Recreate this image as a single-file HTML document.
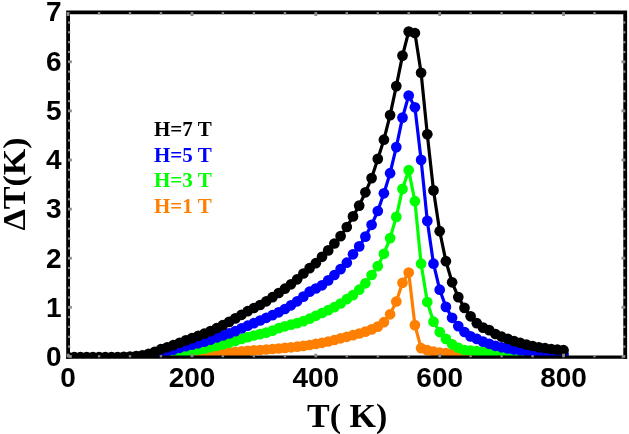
<!DOCTYPE html>
<html><head><meta charset="utf-8"><style>
html,body{margin:0;padding:0;background:#fff;}
svg{display:block;filter:blur(0.35px);}
.tk{font-family:"Liberation Sans",Arial,sans-serif;font-weight:bold;font-size:28px;fill:#000;}
.ax{font-family:"Liberation Serif","Times New Roman",serif;font-weight:bold;font-size:34px;fill:#000;}
.lg{font-family:"Liberation Serif","Times New Roman",serif;font-weight:bold;font-size:21px;}
</style></head><body>
<svg width="629" height="434" viewBox="0 0 629 434">
<rect width="629" height="434" fill="#fff"/>
<defs><clipPath id="c"><rect x="68.1" y="12.3" width="557.1" height="344.8"/></clipPath></defs>
<g clip-path="url(#c)">
<polyline fill="none" stroke="#ff7f00" stroke-width="3.2" stroke-linejoin="round" points="136.2,356.5 142.4,356.4 148.6,356.3 154.8,356.2 161.0,356.1 167.2,355.9 173.4,355.7 179.6,355.4 185.8,355.0 192.0,354.7 198.2,354.3 204.3,353.9 210.5,353.5 216.7,353.1 222.9,352.7 229.1,352.3 235.3,351.8 241.5,351.4 247.7,350.9 253.9,350.4 260.1,350.0 266.3,349.5 272.5,349.0 278.7,348.5 284.9,347.9 291.0,347.3 297.2,346.7 303.4,345.9 309.6,345.0 315.8,343.9 322.0,342.8 328.2,341.5 334.4,340.0 340.6,338.3 346.8,336.8 353.0,335.2 359.2,333.5 365.4,331.6 371.6,329.4 377.8,326.6 383.9,322.2 390.1,314.3 396.3,301.5 402.5,282.8 408.7,272.5 414.9,325.1 421.1,348.2 427.3,350.2 433.5,351.7 439.7,352.7 445.9,353.2 452.1,353.7 458.3,354.1 464.5,354.4 470.6,354.6 476.8,354.9 483.0,355.1 489.2,355.3 495.4,355.5 501.6,355.6 507.8,355.8 514.0,355.9 520.2,356.0 526.4,356.1 532.6,356.2 538.8,356.3 545.0,356.4 551.2,356.5 557.3,356.6 563.5,356.6"/>
<g fill="#ff7f00"><circle cx="136.2" cy="356.5" r="5.35"/><circle cx="142.4" cy="356.4" r="5.35"/><circle cx="148.6" cy="356.3" r="5.35"/><circle cx="154.8" cy="356.2" r="5.35"/><circle cx="161.0" cy="356.1" r="5.35"/><circle cx="167.2" cy="355.9" r="5.35"/><circle cx="173.4" cy="355.7" r="5.35"/><circle cx="179.6" cy="355.4" r="5.35"/><circle cx="185.8" cy="355.0" r="5.35"/><circle cx="192.0" cy="354.7" r="5.35"/><circle cx="198.2" cy="354.3" r="5.35"/><circle cx="204.3" cy="353.9" r="5.35"/><circle cx="210.5" cy="353.5" r="5.35"/><circle cx="216.7" cy="353.1" r="5.35"/><circle cx="222.9" cy="352.7" r="5.35"/><circle cx="229.1" cy="352.3" r="5.35"/><circle cx="235.3" cy="351.8" r="5.35"/><circle cx="241.5" cy="351.4" r="5.35"/><circle cx="247.7" cy="350.9" r="5.35"/><circle cx="253.9" cy="350.4" r="5.35"/><circle cx="260.1" cy="350.0" r="5.35"/><circle cx="266.3" cy="349.5" r="5.35"/><circle cx="272.5" cy="349.0" r="5.35"/><circle cx="278.7" cy="348.5" r="5.35"/><circle cx="284.9" cy="347.9" r="5.35"/><circle cx="291.0" cy="347.3" r="5.35"/><circle cx="297.2" cy="346.7" r="5.35"/><circle cx="303.4" cy="345.9" r="5.35"/><circle cx="309.6" cy="345.0" r="5.35"/><circle cx="315.8" cy="343.9" r="5.35"/><circle cx="322.0" cy="342.8" r="5.35"/><circle cx="328.2" cy="341.5" r="5.35"/><circle cx="334.4" cy="340.0" r="5.35"/><circle cx="340.6" cy="338.3" r="5.35"/><circle cx="346.8" cy="336.8" r="5.35"/><circle cx="353.0" cy="335.2" r="5.35"/><circle cx="359.2" cy="333.5" r="5.35"/><circle cx="365.4" cy="331.6" r="5.35"/><circle cx="371.6" cy="329.4" r="5.35"/><circle cx="377.8" cy="326.6" r="5.35"/><circle cx="383.9" cy="322.2" r="5.35"/><circle cx="390.1" cy="314.3" r="5.35"/><circle cx="396.3" cy="301.5" r="5.35"/><circle cx="402.5" cy="282.8" r="5.35"/><circle cx="408.7" cy="272.5" r="5.35"/><circle cx="414.9" cy="325.1" r="5.35"/><circle cx="421.1" cy="348.2" r="5.35"/><circle cx="427.3" cy="350.2" r="5.35"/><circle cx="433.5" cy="351.7" r="5.35"/><circle cx="439.7" cy="352.7" r="5.35"/><circle cx="445.9" cy="353.2" r="5.35"/><circle cx="452.1" cy="353.7" r="5.35"/><circle cx="458.3" cy="354.1" r="5.35"/><circle cx="464.5" cy="354.4" r="5.35"/><circle cx="470.6" cy="354.6" r="5.35"/><circle cx="476.8" cy="354.9" r="5.35"/><circle cx="483.0" cy="355.1" r="5.35"/><circle cx="489.2" cy="355.3" r="5.35"/><circle cx="495.4" cy="355.5" r="5.35"/><circle cx="501.6" cy="355.6" r="5.35"/><circle cx="507.8" cy="355.8" r="5.35"/><circle cx="514.0" cy="355.9" r="5.35"/><circle cx="520.2" cy="356.0" r="5.35"/><circle cx="526.4" cy="356.1" r="5.35"/><circle cx="532.6" cy="356.2" r="5.35"/><circle cx="538.8" cy="356.3" r="5.35"/><circle cx="545.0" cy="356.4" r="5.35"/><circle cx="551.2" cy="356.5" r="5.35"/><circle cx="557.3" cy="356.6" r="5.35"/><circle cx="563.5" cy="356.6" r="5.35"/></g>
<polyline fill="none" stroke="#00ff00" stroke-width="3.2" stroke-linejoin="round" points="136.2,356.7 142.4,356.4 148.6,355.9 154.8,355.4 161.0,354.9 167.2,354.3 173.4,353.6 179.6,352.8 185.8,351.8 192.0,350.8 198.2,349.7 204.3,348.6 210.5,347.3 216.7,345.9 222.9,344.4 229.1,342.7 235.3,340.9 241.5,339.0 247.7,337.1 253.9,335.5 260.1,334.1 266.3,332.6 272.5,330.7 278.7,328.2 284.9,326.3 291.0,324.7 297.2,323.1 303.4,321.2 309.6,318.7 315.8,315.8 322.0,313.0 328.2,310.2 334.4,307.2 340.6,303.5 346.8,299.2 353.0,295.1 359.2,289.7 365.4,283.3 371.6,275.0 377.8,266.1 383.9,253.8 390.1,238.1 396.3,216.9 402.5,188.9 408.7,170.2 414.9,201.2 421.1,263.7 427.3,302.0 433.5,321.7 439.7,332.0 445.9,338.9 452.1,344.3 458.3,347.8 464.5,350.2 470.6,350.5 476.8,351.2 483.0,351.7 489.2,352.2 495.4,352.7 501.6,353.2 507.8,353.6 514.0,353.9 520.2,354.2 526.4,354.5 532.6,354.7 538.8,355.0 545.0,355.2 551.2,355.4 557.3,355.5 563.5,355.6"/>
<g fill="#00ff00"><circle cx="136.2" cy="356.7" r="5.35"/><circle cx="142.4" cy="356.4" r="5.35"/><circle cx="148.6" cy="355.9" r="5.35"/><circle cx="154.8" cy="355.4" r="5.35"/><circle cx="161.0" cy="354.9" r="5.35"/><circle cx="167.2" cy="354.3" r="5.35"/><circle cx="173.4" cy="353.6" r="5.35"/><circle cx="179.6" cy="352.8" r="5.35"/><circle cx="185.8" cy="351.8" r="5.35"/><circle cx="192.0" cy="350.8" r="5.35"/><circle cx="198.2" cy="349.7" r="5.35"/><circle cx="204.3" cy="348.6" r="5.35"/><circle cx="210.5" cy="347.3" r="5.35"/><circle cx="216.7" cy="345.9" r="5.35"/><circle cx="222.9" cy="344.4" r="5.35"/><circle cx="229.1" cy="342.7" r="5.35"/><circle cx="235.3" cy="340.9" r="5.35"/><circle cx="241.5" cy="339.0" r="5.35"/><circle cx="247.7" cy="337.1" r="5.35"/><circle cx="253.9" cy="335.5" r="5.35"/><circle cx="260.1" cy="334.1" r="5.35"/><circle cx="266.3" cy="332.6" r="5.35"/><circle cx="272.5" cy="330.7" r="5.35"/><circle cx="278.7" cy="328.2" r="5.35"/><circle cx="284.9" cy="326.3" r="5.35"/><circle cx="291.0" cy="324.7" r="5.35"/><circle cx="297.2" cy="323.1" r="5.35"/><circle cx="303.4" cy="321.2" r="5.35"/><circle cx="309.6" cy="318.7" r="5.35"/><circle cx="315.8" cy="315.8" r="5.35"/><circle cx="322.0" cy="313.0" r="5.35"/><circle cx="328.2" cy="310.2" r="5.35"/><circle cx="334.4" cy="307.2" r="5.35"/><circle cx="340.6" cy="303.5" r="5.35"/><circle cx="346.8" cy="299.2" r="5.35"/><circle cx="353.0" cy="295.1" r="5.35"/><circle cx="359.2" cy="289.7" r="5.35"/><circle cx="365.4" cy="283.3" r="5.35"/><circle cx="371.6" cy="275.0" r="5.35"/><circle cx="377.8" cy="266.1" r="5.35"/><circle cx="383.9" cy="253.8" r="5.35"/><circle cx="390.1" cy="238.1" r="5.35"/><circle cx="396.3" cy="216.9" r="5.35"/><circle cx="402.5" cy="188.9" r="5.35"/><circle cx="408.7" cy="170.2" r="5.35"/><circle cx="414.9" cy="201.2" r="5.35"/><circle cx="421.1" cy="263.7" r="5.35"/><circle cx="427.3" cy="302.0" r="5.35"/><circle cx="433.5" cy="321.7" r="5.35"/><circle cx="439.7" cy="332.0" r="5.35"/><circle cx="445.9" cy="338.9" r="5.35"/><circle cx="452.1" cy="344.3" r="5.35"/><circle cx="458.3" cy="347.8" r="5.35"/><circle cx="464.5" cy="350.2" r="5.35"/><circle cx="470.6" cy="350.5" r="5.35"/><circle cx="476.8" cy="351.2" r="5.35"/><circle cx="483.0" cy="351.7" r="5.35"/><circle cx="489.2" cy="352.2" r="5.35"/><circle cx="495.4" cy="352.7" r="5.35"/><circle cx="501.6" cy="353.2" r="5.35"/><circle cx="507.8" cy="353.6" r="5.35"/><circle cx="514.0" cy="353.9" r="5.35"/><circle cx="520.2" cy="354.2" r="5.35"/><circle cx="526.4" cy="354.5" r="5.35"/><circle cx="532.6" cy="354.7" r="5.35"/><circle cx="538.8" cy="355.0" r="5.35"/><circle cx="545.0" cy="355.2" r="5.35"/><circle cx="551.2" cy="355.4" r="5.35"/><circle cx="557.3" cy="355.5" r="5.35"/><circle cx="563.5" cy="355.6" r="5.35"/></g>
<polyline fill="none" stroke="#0000ff" stroke-width="3.2" stroke-linejoin="round" points="142.4,355.9 148.6,355.1 154.8,354.1 161.0,352.7 167.2,351.2 173.4,349.6 179.6,347.8 185.8,346.1 192.0,344.6 198.2,343.3 204.3,341.6 210.5,339.6 216.7,337.4 222.9,335.4 229.1,333.4 235.3,331.1 241.5,328.4 247.7,325.7 253.9,323.1 260.1,320.5 266.3,317.8 272.5,315.2 278.7,312.3 284.9,309.0 291.0,305.3 297.2,301.3 303.4,296.6 309.6,291.7 315.8,288.5 322.0,285.3 328.2,280.4 334.4,275.0 340.6,269.1 346.8,262.7 353.0,254.3 359.2,246.4 365.4,236.6 371.6,224.8 377.8,211.0 383.9,193.3 390.1,173.2 396.3,147.1 402.5,117.6 408.7,95.5 414.9,107.3 421.1,159.9 427.3,220.9 433.5,263.7 439.7,289.7 445.9,306.9 452.1,317.8 458.3,326.1 464.5,332.0 470.6,336.4 476.8,338.9 483.0,341.6 489.2,343.8 495.4,345.8 501.6,347.3 507.8,348.5 514.0,349.5 520.2,350.3 526.4,351.0 532.6,351.7 538.8,352.3 545.0,352.8 551.2,353.3 557.3,353.8 563.5,354.1"/>
<g fill="#0000ff"><circle cx="142.4" cy="355.9" r="5.35"/><circle cx="148.6" cy="355.1" r="5.35"/><circle cx="154.8" cy="354.1" r="5.35"/><circle cx="161.0" cy="352.7" r="5.35"/><circle cx="167.2" cy="351.2" r="5.35"/><circle cx="173.4" cy="349.6" r="5.35"/><circle cx="179.6" cy="347.8" r="5.35"/><circle cx="185.8" cy="346.1" r="5.35"/><circle cx="192.0" cy="344.6" r="5.35"/><circle cx="198.2" cy="343.3" r="5.35"/><circle cx="204.3" cy="341.6" r="5.35"/><circle cx="210.5" cy="339.6" r="5.35"/><circle cx="216.7" cy="337.4" r="5.35"/><circle cx="222.9" cy="335.4" r="5.35"/><circle cx="229.1" cy="333.4" r="5.35"/><circle cx="235.3" cy="331.1" r="5.35"/><circle cx="241.5" cy="328.4" r="5.35"/><circle cx="247.7" cy="325.7" r="5.35"/><circle cx="253.9" cy="323.1" r="5.35"/><circle cx="260.1" cy="320.5" r="5.35"/><circle cx="266.3" cy="317.8" r="5.35"/><circle cx="272.5" cy="315.2" r="5.35"/><circle cx="278.7" cy="312.3" r="5.35"/><circle cx="284.9" cy="309.0" r="5.35"/><circle cx="291.0" cy="305.3" r="5.35"/><circle cx="297.2" cy="301.3" r="5.35"/><circle cx="303.4" cy="296.6" r="5.35"/><circle cx="309.6" cy="291.7" r="5.35"/><circle cx="315.8" cy="288.5" r="5.35"/><circle cx="322.0" cy="285.3" r="5.35"/><circle cx="328.2" cy="280.4" r="5.35"/><circle cx="334.4" cy="275.0" r="5.35"/><circle cx="340.6" cy="269.1" r="5.35"/><circle cx="346.8" cy="262.7" r="5.35"/><circle cx="353.0" cy="254.3" r="5.35"/><circle cx="359.2" cy="246.4" r="5.35"/><circle cx="365.4" cy="236.6" r="5.35"/><circle cx="371.6" cy="224.8" r="5.35"/><circle cx="377.8" cy="211.0" r="5.35"/><circle cx="383.9" cy="193.3" r="5.35"/><circle cx="390.1" cy="173.2" r="5.35"/><circle cx="396.3" cy="147.1" r="5.35"/><circle cx="402.5" cy="117.6" r="5.35"/><circle cx="408.7" cy="95.5" r="5.35"/><circle cx="414.9" cy="107.3" r="5.35"/><circle cx="421.1" cy="159.9" r="5.35"/><circle cx="427.3" cy="220.9" r="5.35"/><circle cx="433.5" cy="263.7" r="5.35"/><circle cx="439.7" cy="289.7" r="5.35"/><circle cx="445.9" cy="306.9" r="5.35"/><circle cx="452.1" cy="317.8" r="5.35"/><circle cx="458.3" cy="326.1" r="5.35"/><circle cx="464.5" cy="332.0" r="5.35"/><circle cx="470.6" cy="336.4" r="5.35"/><circle cx="476.8" cy="338.9" r="5.35"/><circle cx="483.0" cy="341.6" r="5.35"/><circle cx="489.2" cy="343.8" r="5.35"/><circle cx="495.4" cy="345.8" r="5.35"/><circle cx="501.6" cy="347.3" r="5.35"/><circle cx="507.8" cy="348.5" r="5.35"/><circle cx="514.0" cy="349.5" r="5.35"/><circle cx="520.2" cy="350.3" r="5.35"/><circle cx="526.4" cy="351.0" r="5.35"/><circle cx="532.6" cy="351.7" r="5.35"/><circle cx="538.8" cy="352.3" r="5.35"/><circle cx="545.0" cy="352.8" r="5.35"/><circle cx="551.2" cy="353.3" r="5.35"/><circle cx="557.3" cy="353.8" r="5.35"/><circle cx="563.5" cy="354.1" r="5.35"/></g>
<polyline fill="none" stroke="#000000" stroke-width="3.2" stroke-linejoin="round" points="68.1,357.1 74.3,357.1 80.5,357.1 86.7,357.1 92.9,357.1 99.1,357.1 105.3,357.1 111.5,357.1 117.6,357.1 123.8,356.9 130.0,356.6 136.2,356.1 142.4,355.4 148.6,353.9 154.8,351.9 161.0,349.2 167.2,347.3 173.4,345.1 179.6,342.8 185.8,340.4 192.0,338.1 198.2,335.9 204.3,333.7 210.5,331.1 216.7,328.2 222.9,325.1 229.1,321.9 235.3,318.4 241.5,314.8 247.7,311.2 253.9,308.0 260.1,305.0 266.3,301.3 272.5,297.2 278.7,293.0 284.9,288.7 291.0,284.3 297.2,279.3 303.4,273.5 309.6,268.1 315.8,263.2 322.0,256.8 328.2,250.4 334.4,243.5 340.6,236.1 346.8,227.0 353.0,216.4 359.2,205.6 365.4,192.3 371.6,178.1 377.8,158.9 383.9,139.7 390.1,115.1 396.3,86.1 402.5,55.6 408.7,31.5 414.9,33.0 421.1,72.8 427.3,134.3 433.5,190.4 439.7,231.2 445.9,261.2 452.1,282.3 458.3,297.1 464.5,307.9 470.6,316.3 476.8,323.2 483.0,327.6 489.2,330.1 495.4,334.0 501.6,336.7 507.8,338.9 514.0,341.1 520.2,342.8 526.4,344.6 532.6,346.0 538.8,347.3 545.0,348.2 551.2,349.0 557.3,349.6 563.5,350.2"/>
<g fill="#000000"><circle cx="68.1" cy="357.1" r="5.35"/><circle cx="74.3" cy="357.1" r="5.35"/><circle cx="80.5" cy="357.1" r="5.35"/><circle cx="86.7" cy="357.1" r="5.35"/><circle cx="92.9" cy="357.1" r="5.35"/><circle cx="99.1" cy="357.1" r="5.35"/><circle cx="105.3" cy="357.1" r="5.35"/><circle cx="111.5" cy="357.1" r="5.35"/><circle cx="117.6" cy="357.1" r="5.35"/><circle cx="123.8" cy="356.9" r="5.35"/><circle cx="130.0" cy="356.6" r="5.35"/><circle cx="136.2" cy="356.1" r="5.35"/><circle cx="142.4" cy="355.4" r="5.35"/><circle cx="148.6" cy="353.9" r="5.35"/><circle cx="154.8" cy="351.9" r="5.35"/><circle cx="161.0" cy="349.2" r="5.35"/><circle cx="167.2" cy="347.3" r="5.35"/><circle cx="173.4" cy="345.1" r="5.35"/><circle cx="179.6" cy="342.8" r="5.35"/><circle cx="185.8" cy="340.4" r="5.35"/><circle cx="192.0" cy="338.1" r="5.35"/><circle cx="198.2" cy="335.9" r="5.35"/><circle cx="204.3" cy="333.7" r="5.35"/><circle cx="210.5" cy="331.1" r="5.35"/><circle cx="216.7" cy="328.2" r="5.35"/><circle cx="222.9" cy="325.1" r="5.35"/><circle cx="229.1" cy="321.9" r="5.35"/><circle cx="235.3" cy="318.4" r="5.35"/><circle cx="241.5" cy="314.8" r="5.35"/><circle cx="247.7" cy="311.2" r="5.35"/><circle cx="253.9" cy="308.0" r="5.35"/><circle cx="260.1" cy="305.0" r="5.35"/><circle cx="266.3" cy="301.3" r="5.35"/><circle cx="272.5" cy="297.2" r="5.35"/><circle cx="278.7" cy="293.0" r="5.35"/><circle cx="284.9" cy="288.7" r="5.35"/><circle cx="291.0" cy="284.3" r="5.35"/><circle cx="297.2" cy="279.3" r="5.35"/><circle cx="303.4" cy="273.5" r="5.35"/><circle cx="309.6" cy="268.1" r="5.35"/><circle cx="315.8" cy="263.2" r="5.35"/><circle cx="322.0" cy="256.8" r="5.35"/><circle cx="328.2" cy="250.4" r="5.35"/><circle cx="334.4" cy="243.5" r="5.35"/><circle cx="340.6" cy="236.1" r="5.35"/><circle cx="346.8" cy="227.0" r="5.35"/><circle cx="353.0" cy="216.4" r="5.35"/><circle cx="359.2" cy="205.6" r="5.35"/><circle cx="365.4" cy="192.3" r="5.35"/><circle cx="371.6" cy="178.1" r="5.35"/><circle cx="377.8" cy="158.9" r="5.35"/><circle cx="383.9" cy="139.7" r="5.35"/><circle cx="390.1" cy="115.1" r="5.35"/><circle cx="396.3" cy="86.1" r="5.35"/><circle cx="402.5" cy="55.6" r="5.35"/><circle cx="408.7" cy="31.5" r="5.35"/><circle cx="414.9" cy="33.0" r="5.35"/><circle cx="421.1" cy="72.8" r="5.35"/><circle cx="427.3" cy="134.3" r="5.35"/><circle cx="433.5" cy="190.4" r="5.35"/><circle cx="439.7" cy="231.2" r="5.35"/><circle cx="445.9" cy="261.2" r="5.35"/><circle cx="452.1" cy="282.3" r="5.35"/><circle cx="458.3" cy="297.1" r="5.35"/><circle cx="464.5" cy="307.9" r="5.35"/><circle cx="470.6" cy="316.3" r="5.35"/><circle cx="476.8" cy="323.2" r="5.35"/><circle cx="483.0" cy="327.6" r="5.35"/><circle cx="489.2" cy="330.1" r="5.35"/><circle cx="495.4" cy="334.0" r="5.35"/><circle cx="501.6" cy="336.7" r="5.35"/><circle cx="507.8" cy="338.9" r="5.35"/><circle cx="514.0" cy="341.1" r="5.35"/><circle cx="520.2" cy="342.8" r="5.35"/><circle cx="526.4" cy="344.6" r="5.35"/><circle cx="532.6" cy="346.0" r="5.35"/><circle cx="538.8" cy="347.3" r="5.35"/><circle cx="545.0" cy="348.2" r="5.35"/><circle cx="551.2" cy="349.0" r="5.35"/><circle cx="557.3" cy="349.6" r="5.35"/><circle cx="563.5" cy="350.2" r="5.35"/></g>
</g>
<path d="M68.1,10.4 V358.75 M625.2,358.75 V10.4 M627.1,12.3 H66.19999999999999" stroke="#000" stroke-width="3.8" fill="none"/>
<path d="M66.19999999999999,357.1 H627.1" stroke="#000" stroke-width="3.3" fill="none"/>
<rect x="66.7" y="353.7" width="2.8" height="3.6" fill="#8c8c8c"/><rect x="66.7" y="12.1" width="2.8" height="3.9" fill="#8c8c8c"/><rect x="97.9" y="355.2" width="2.4" height="2.1" fill="#8c8c8c"/><rect x="97.9" y="12.1" width="2.4" height="2.4" fill="#8c8c8c"/><rect x="128.8" y="355.2" width="2.4" height="2.1" fill="#8c8c8c"/><rect x="128.8" y="12.1" width="2.4" height="2.4" fill="#8c8c8c"/><rect x="159.8" y="355.2" width="2.4" height="2.1" fill="#8c8c8c"/><rect x="159.8" y="12.1" width="2.4" height="2.4" fill="#8c8c8c"/><rect x="190.6" y="353.7" width="2.8" height="3.6" fill="#8c8c8c"/><rect x="190.6" y="12.1" width="2.8" height="3.9" fill="#8c8c8c"/><rect x="221.7" y="355.2" width="2.4" height="2.1" fill="#8c8c8c"/><rect x="221.7" y="12.1" width="2.4" height="2.4" fill="#8c8c8c"/><rect x="252.7" y="355.2" width="2.4" height="2.1" fill="#8c8c8c"/><rect x="252.7" y="12.1" width="2.4" height="2.4" fill="#8c8c8c"/><rect x="283.7" y="355.2" width="2.4" height="2.1" fill="#8c8c8c"/><rect x="283.7" y="12.1" width="2.4" height="2.4" fill="#8c8c8c"/><rect x="314.4" y="353.7" width="2.8" height="3.6" fill="#8c8c8c"/><rect x="314.4" y="12.1" width="2.8" height="3.9" fill="#8c8c8c"/><rect x="345.6" y="355.2" width="2.4" height="2.1" fill="#8c8c8c"/><rect x="345.6" y="12.1" width="2.4" height="2.4" fill="#8c8c8c"/><rect x="376.6" y="355.2" width="2.4" height="2.1" fill="#8c8c8c"/><rect x="376.6" y="12.1" width="2.4" height="2.4" fill="#8c8c8c"/><rect x="407.5" y="355.2" width="2.4" height="2.1" fill="#8c8c8c"/><rect x="407.5" y="12.1" width="2.4" height="2.4" fill="#8c8c8c"/><rect x="438.3" y="353.7" width="2.8" height="3.6" fill="#8c8c8c"/><rect x="438.3" y="12.1" width="2.8" height="3.9" fill="#8c8c8c"/><rect x="469.4" y="355.2" width="2.4" height="2.1" fill="#8c8c8c"/><rect x="469.4" y="12.1" width="2.4" height="2.4" fill="#8c8c8c"/><rect x="500.4" y="355.2" width="2.4" height="2.1" fill="#8c8c8c"/><rect x="500.4" y="12.1" width="2.4" height="2.4" fill="#8c8c8c"/><rect x="531.4" y="355.2" width="2.4" height="2.1" fill="#8c8c8c"/><rect x="531.4" y="12.1" width="2.4" height="2.4" fill="#8c8c8c"/><rect x="562.1" y="353.7" width="2.8" height="3.6" fill="#8c8c8c"/><rect x="562.1" y="12.1" width="2.8" height="3.9" fill="#8c8c8c"/><rect x="593.3" y="355.2" width="2.4" height="2.1" fill="#8c8c8c"/><rect x="593.3" y="12.1" width="2.4" height="2.4" fill="#8c8c8c"/><rect x="68.0" y="355.0" width="3.8" height="2.8" fill="#8c8c8c"/><rect x="621.5" y="355.0" width="3.8" height="2.8" fill="#8c8c8c"/><rect x="68.0" y="345.5" width="2.3" height="2.2" fill="#8c8c8c"/><rect x="623.0" y="345.5" width="2.3" height="2.2" fill="#8c8c8c"/><rect x="68.0" y="335.7" width="2.3" height="2.2" fill="#8c8c8c"/><rect x="623.0" y="335.7" width="2.3" height="2.2" fill="#8c8c8c"/><rect x="68.0" y="325.8" width="2.3" height="2.2" fill="#8c8c8c"/><rect x="623.0" y="325.8" width="2.3" height="2.2" fill="#8c8c8c"/><rect x="68.0" y="316.0" width="2.3" height="2.2" fill="#8c8c8c"/><rect x="623.0" y="316.0" width="2.3" height="2.2" fill="#8c8c8c"/><rect x="68.0" y="305.9" width="3.8" height="2.8" fill="#8c8c8c"/><rect x="621.5" y="305.9" width="3.8" height="2.8" fill="#8c8c8c"/><rect x="68.0" y="296.4" width="2.3" height="2.2" fill="#8c8c8c"/><rect x="623.0" y="296.4" width="2.3" height="2.2" fill="#8c8c8c"/><rect x="68.0" y="286.6" width="2.3" height="2.2" fill="#8c8c8c"/><rect x="623.0" y="286.6" width="2.3" height="2.2" fill="#8c8c8c"/><rect x="68.0" y="276.7" width="2.3" height="2.2" fill="#8c8c8c"/><rect x="623.0" y="276.7" width="2.3" height="2.2" fill="#8c8c8c"/><rect x="68.0" y="266.9" width="2.3" height="2.2" fill="#8c8c8c"/><rect x="623.0" y="266.9" width="2.3" height="2.2" fill="#8c8c8c"/><rect x="68.0" y="256.8" width="3.8" height="2.8" fill="#8c8c8c"/><rect x="621.5" y="256.8" width="3.8" height="2.8" fill="#8c8c8c"/><rect x="68.0" y="247.3" width="2.3" height="2.2" fill="#8c8c8c"/><rect x="623.0" y="247.3" width="2.3" height="2.2" fill="#8c8c8c"/><rect x="68.0" y="237.5" width="2.3" height="2.2" fill="#8c8c8c"/><rect x="623.0" y="237.5" width="2.3" height="2.2" fill="#8c8c8c"/><rect x="68.0" y="227.6" width="2.3" height="2.2" fill="#8c8c8c"/><rect x="623.0" y="227.6" width="2.3" height="2.2" fill="#8c8c8c"/><rect x="68.0" y="217.8" width="2.3" height="2.2" fill="#8c8c8c"/><rect x="623.0" y="217.8" width="2.3" height="2.2" fill="#8c8c8c"/><rect x="68.0" y="207.7" width="3.8" height="2.8" fill="#8c8c8c"/><rect x="621.5" y="207.7" width="3.8" height="2.8" fill="#8c8c8c"/><rect x="68.0" y="198.2" width="2.3" height="2.2" fill="#8c8c8c"/><rect x="623.0" y="198.2" width="2.3" height="2.2" fill="#8c8c8c"/><rect x="68.0" y="188.4" width="2.3" height="2.2" fill="#8c8c8c"/><rect x="623.0" y="188.4" width="2.3" height="2.2" fill="#8c8c8c"/><rect x="68.0" y="178.5" width="2.3" height="2.2" fill="#8c8c8c"/><rect x="623.0" y="178.5" width="2.3" height="2.2" fill="#8c8c8c"/><rect x="68.0" y="168.7" width="2.3" height="2.2" fill="#8c8c8c"/><rect x="623.0" y="168.7" width="2.3" height="2.2" fill="#8c8c8c"/><rect x="68.0" y="158.6" width="3.8" height="2.8" fill="#8c8c8c"/><rect x="621.5" y="158.6" width="3.8" height="2.8" fill="#8c8c8c"/><rect x="68.0" y="149.1" width="2.3" height="2.2" fill="#8c8c8c"/><rect x="623.0" y="149.1" width="2.3" height="2.2" fill="#8c8c8c"/><rect x="68.0" y="139.3" width="2.3" height="2.2" fill="#8c8c8c"/><rect x="623.0" y="139.3" width="2.3" height="2.2" fill="#8c8c8c"/><rect x="68.0" y="129.4" width="2.3" height="2.2" fill="#8c8c8c"/><rect x="623.0" y="129.4" width="2.3" height="2.2" fill="#8c8c8c"/><rect x="68.0" y="119.6" width="2.3" height="2.2" fill="#8c8c8c"/><rect x="623.0" y="119.6" width="2.3" height="2.2" fill="#8c8c8c"/><rect x="68.0" y="109.5" width="3.8" height="2.8" fill="#8c8c8c"/><rect x="621.5" y="109.5" width="3.8" height="2.8" fill="#8c8c8c"/><rect x="68.0" y="100.0" width="2.3" height="2.2" fill="#8c8c8c"/><rect x="623.0" y="100.0" width="2.3" height="2.2" fill="#8c8c8c"/><rect x="68.0" y="90.2" width="2.3" height="2.2" fill="#8c8c8c"/><rect x="623.0" y="90.2" width="2.3" height="2.2" fill="#8c8c8c"/><rect x="68.0" y="80.3" width="2.3" height="2.2" fill="#8c8c8c"/><rect x="623.0" y="80.3" width="2.3" height="2.2" fill="#8c8c8c"/><rect x="68.0" y="70.5" width="2.3" height="2.2" fill="#8c8c8c"/><rect x="623.0" y="70.5" width="2.3" height="2.2" fill="#8c8c8c"/><rect x="68.0" y="60.4" width="3.8" height="2.8" fill="#8c8c8c"/><rect x="621.5" y="60.4" width="3.8" height="2.8" fill="#8c8c8c"/><rect x="68.0" y="50.9" width="2.3" height="2.2" fill="#8c8c8c"/><rect x="623.0" y="50.9" width="2.3" height="2.2" fill="#8c8c8c"/><rect x="68.0" y="41.1" width="2.3" height="2.2" fill="#8c8c8c"/><rect x="623.0" y="41.1" width="2.3" height="2.2" fill="#8c8c8c"/><rect x="68.0" y="31.2" width="2.3" height="2.2" fill="#8c8c8c"/><rect x="623.0" y="31.2" width="2.3" height="2.2" fill="#8c8c8c"/><rect x="68.0" y="21.4" width="2.3" height="2.2" fill="#8c8c8c"/><rect x="623.0" y="21.4" width="2.3" height="2.2" fill="#8c8c8c"/>
<g class="tk"><text x="61.5" y="366.2" text-anchor="end">0</text><text x="61.5" y="316.9" text-anchor="end">1</text><text x="61.5" y="267.7" text-anchor="end">2</text><text x="61.5" y="218.4" text-anchor="end">3</text><text x="61.5" y="169.2" text-anchor="end">4</text><text x="61.5" y="119.9" text-anchor="end">5</text><text x="61.5" y="70.7" text-anchor="end">6</text><text x="61.5" y="21.4" text-anchor="end">7</text><text x="68.1" y="386.5" text-anchor="middle">0</text><text x="192.0" y="386.5" text-anchor="middle">200</text><text x="315.8" y="386.5" text-anchor="middle">400</text><text x="439.7" y="386.5" text-anchor="middle">600</text><text x="563.5" y="386.5" text-anchor="middle">800</text></g>
<text class="ax" x="307" y="426.8">T( K)</text>
<text class="ax" transform="translate(25.3,230.6) rotate(-90) scale(1,0.91)" x="0" y="0">ΔT(K)</text>
<g class="lg"><text x="154" y="136.3" fill="#000000">H=7 T</text><text x="154" y="161.7" fill="#0000ff">H=5 T</text><text x="154" y="187.1" fill="#00ff00">H=3 T</text><text x="154" y="212.5" fill="#ff7f00">H=1 T</text></g>
</svg>
</body></html>
